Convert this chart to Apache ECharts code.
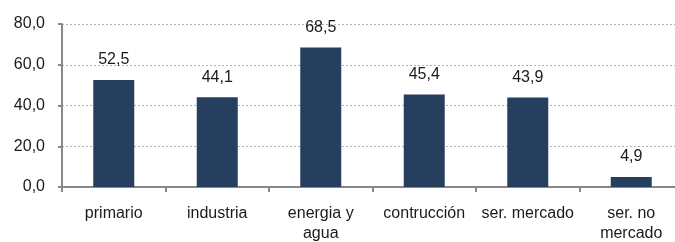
<!DOCTYPE html>
<html>
<head>
<meta charset="utf-8">
<script src="https://cdn.jsdelivr.net/npm/echarts@6/dist/echarts.min.js"></script>
<style>
  html, body { margin: 0; padding: 0; background: #fff; }
  #chart { width: 675px; height: 242px; }
</style>
</head>
<body>
<div id="chart"></div>
<script>
var categories = ['primario', 'industria', 'energia y\nagua', 'contrucción', 'ser. mercado', 'ser. no\nmercado']
var values = [52.5, 44.1, 68.5, 45.4, 43.9, 4.9]
var yTicks = [0, 20, 40, 60, 80]

var fmt = function (v) { return v.toFixed(1).replace('.', ',') }
var font = 'Liberation Sans, Arial, sans-serif'

var myChart = echarts.init(document.getElementById('chart'))
myChart.setOption({
  animation: false,
  // plot runs past the right edge of the picture (cropped in the original)
  grid: { left: 62, top: 24, height: 163, width: 621, outerBoundsMode: 'none' },
  xAxis: {
    type: 'category',
    data: categories,
    axisLine: { lineStyle: { color: '#888', width: 2 } },
    axisTick: { show: true, length: 5, lineStyle: { color: '#888', width: 2 } },
    axisLabel: {
      color: '#1a1a1a', fontSize: 16, fontFamily: font,
      lineHeight: 20, margin: 17, interval: 0
    }
  },
  yAxis: {
    type: 'value',
    min: yTicks[0],
    max: yTicks[yTicks.length - 1],
    interval: 20,
    axisLine: { show: true, lineStyle: { color: '#888', width: 2 } },
    axisTick: { show: true, length: 4, lineStyle: { color: '#888', width: 2 } },
    axisLabel: {
      color: '#1a1a1a', fontSize: 16, fontFamily: font, margin: 17,
      formatter: fmt
    },
    splitLine: { lineStyle: { color: '#b0b0b0', type: [2, 2], width: 1 } }
  },
  series: [{
    type: 'bar',
    data: values,
    barWidth: 41,
    itemStyle: { color: '#263f5f' },
    label: {
      show: true, position: 'top', distance: 12,
      color: '#1a1a1a', fontSize: 16, fontFamily: font,
      formatter: function (p) { return fmt(p.value) }
    }
  }]
})
</script>
</body>
</html>
